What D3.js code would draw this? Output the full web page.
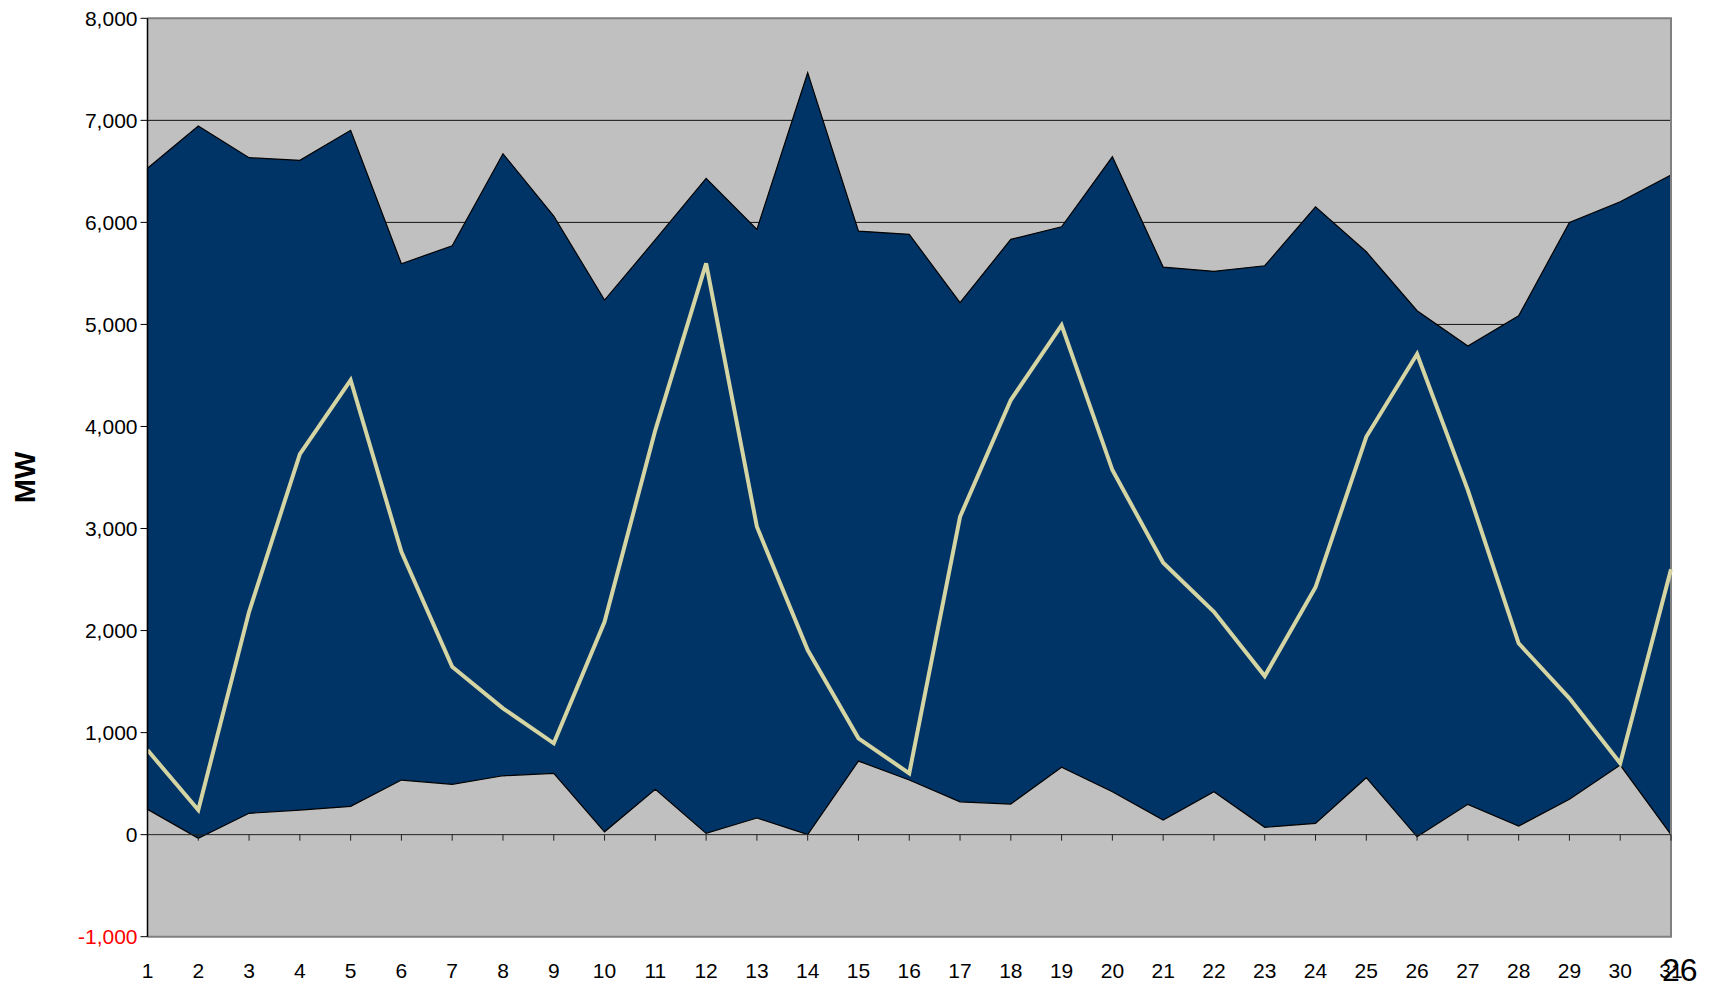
<!DOCTYPE html>
<html>
<head>
<meta charset="utf-8">
<script src="https://cdn.jsdelivr.net/npm/d3@7"></script>
<style>
  html, body { margin: 0; padding: 0; background: #ffffff; }
  svg { display: block; }
  text { font-family: "Liberation Sans", Arial, sans-serif; }
</style>
</head>
<body>
<svg id="chart" width="1715" height="987"></svg>
<script>
// Days of the month
const days = d3.range(1, 32).map(String);

// Lower edge of the band (MW)
const bandLow = [248, -36, 209, 241, 277, 535, 493, 577, 601, 28,
                 444, 13, 163, 0, 721, 535, 322, 300, 660, 420,
                 143, 420, 72, 111, 558, -21, 297, 84, 346, 682, 0];

// Upper edge of the band (MW)
const bandHigh = [6530, 6944, 6634, 6608, 6902, 5595, 5771, 6673, 6062, 5239,
                  5830, 6432, 5932, 7467, 5915, 5883, 5213, 5834, 5957, 6643,
                  5562, 5520, 5575, 6153, 5712, 5134, 4788, 5085, 6000, 6202, 6464];

// Daily value drawn as the light line (MW)
const lineValues = [829, 241, 2184, 3730, 4455, 2772, 1645, 1238, 895, 2086,
                    3965, 5599, 3017, 1809, 944, 601, 3115, 4259, 4994, 3573,
                    2665, 2184, 1554, 2424, 3899, 4710, 3377, 1875, 1336, 699, 2600];

// Value axis ticks
const yTicks = [-1000, 0, 1000, 2000, 3000, 4000, 5000, 6000, 7000, 8000];

const svg = d3.select("#chart");

const plotL = 147.5, plotR = 1671, plotT = 18.3, plotB = 936.7;

const x = d3.scalePoint().domain(days).range([plotL, plotR]);
const y = d3.scaleLinear().domain([-1000, 8000]).range([plotB, plotT]);

// Thousands separator with a plain hyphen for negatives
const fmt = v => d3.format(",")(v).replace("\u2212", "-");

// Plot background
svg.append("rect")
  .attr("x", plotL).attr("y", plotT)
  .attr("width", plotR - plotL).attr("height", plotB - plotT)
  .attr("fill", "#c0c0c0");

// Horizontal gridlines
svg.append("g")
  .selectAll("line")
  .data(yTicks.filter(v => v > 0 && v < 8000))
  .join("line")
  .attr("x1", plotL).attr("x2", plotR)
  .attr("y1", d => y(d)).attr("y2", d => y(d))
  .attr("stroke", "#111")
  .attr("stroke-width", 1);

// Band between the lower and upper series
const rows = days.map((d, i) => ({ day: d, lo: bandLow[i], hi: bandHigh[i], v: lineValues[i] }));

const band = d3.area()
  .x(d => x(d.day))
  .y0(d => y(d.lo))
  .y1(d => y(d.hi));

svg.append("path")
  .datum(rows)
  .attr("d", band)
  .attr("fill", "#003366")
  .attr("stroke", "#000")
  .attr("stroke-width", 1.2)
  .attr("stroke-linejoin", "miter");

// Plot border (top, right, bottom)
svg.append("path")
  .attr("d", `M${plotL},${plotT}H${plotR}V${plotB}H${plotL}`)
  .attr("fill", "none")
  .attr("stroke", "#808080")
  .attr("stroke-width", 2);

// Category axis along zero, with tick marks at each day
svg.append("line")
  .attr("x1", plotL).attr("x2", plotR)
  .attr("y1", y(0)).attr("y2", y(0))
  .attr("stroke", "#222").attr("stroke-width", 1);

svg.append("g")
  .selectAll("line")
  .data(days)
  .join("line")
  .attr("x1", d => x(d)).attr("x2", d => x(d))
  .attr("y1", y(0)).attr("y2", y(0) + 6)
  .attr("stroke", "#222").attr("stroke-width", 1);

// Daily line
const line = d3.line()
  .x(d => x(d.day))
  .y(d => y(d.v));

svg.append("path")
  .datum(rows)
  .attr("d", line)
  .attr("fill", "none")
  .attr("stroke", "#d5d5a3")
  .attr("stroke-width", 4)
  .attr("stroke-linejoin", "miter");

// Value axis line and ticks
svg.append("line")
  .attr("x1", plotL).attr("x2", plotL)
  .attr("y1", plotT).attr("y2", plotB)
  .attr("stroke", "#000").attr("stroke-width", 1.5);

svg.append("g")
  .selectAll("line")
  .data(yTicks)
  .join("line")
  .attr("x1", plotL - 7).attr("x2", plotL)
  .attr("y1", d => y(d)).attr("y2", d => y(d))
  .attr("stroke", "#000").attr("stroke-width", 1);

svg.append("g")
  .selectAll("text")
  .data(yTicks)
  .join("text")
  .attr("x", plotL - 10)
  .attr("y", d => y(d) + 7.5)
  .attr("text-anchor", "end")
  .attr("font-size", 21)
  .attr("fill", d => d < 0 ? "#ff0000" : "#000")
  .text(d => fmt(d));

// Day labels
svg.append("g")
  .selectAll("text")
  .data(days)
  .join("text")
  .attr("x", d => x(d))
  .attr("y", 978)
  .attr("text-anchor", "middle")
  .attr("font-size", 21)
  .attr("fill", "#000")
  .text(d => d);

// Value axis title
svg.append("text")
  .attr("transform", "translate(35,477.5) rotate(-90)")
  .attr("text-anchor", "middle")
  .attr("font-size", 29)
  .attr("font-weight", "bold")
  .attr("fill", "#000")
  .text("MW");

// Page number
svg.append("text")
  .attr("x", 1662)
  .attr("y", 981)
  .attr("font-family", "DejaVu Sans, sans-serif")
  .attr("font-size", 32)
  .attr("fill", "#000")
  .text("26");
</script>
</body>
</html>
